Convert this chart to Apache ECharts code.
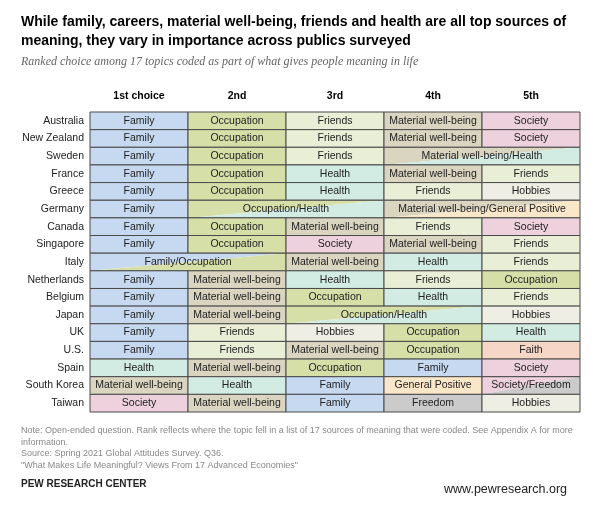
<!DOCTYPE html>
<html><head><meta charset="utf-8">
<script src="https://cdn.jsdelivr.net/npm/echarts@6/dist/echarts.min.js"></script>
<style>body{margin:0;background:#fff}#c{width:600px;height:508px}</style>
</head><body><div id="c"></div>
<script>
var countries = ['Australia','New Zealand','Sweden','France','Greece','Germany','Canada','Singapore','Italy','Netherlands','Belgium','Japan','UK','U.S.','Spain','South Korea','Taiwan'];
var ranks = ['1st choice','2nd','3rd','4th','5th'];
var choices = [
  ['Family','Occupation','Friends','Material well-being','Society'],
  ['Family','Occupation','Friends','Material well-being','Society'],
  ['Family','Occupation','Friends','Material well-being/Health','Material well-being/Health'],
  ['Family','Occupation','Health','Material well-being','Friends'],
  ['Family','Occupation','Health','Friends','Hobbies'],
  ['Family','Occupation/Health','Occupation/Health','Material well-being/General Positive','Material well-being/General Positive'],
  ['Family','Occupation','Material well-being','Friends','Society'],
  ['Family','Occupation','Society','Material well-being','Friends'],
  ['Family/Occupation','Family/Occupation','Material well-being','Health','Friends'],
  ['Family','Material well-being','Health','Friends','Occupation'],
  ['Family','Material well-being','Occupation','Health','Friends'],
  ['Family','Material well-being','Occupation/Health','Occupation/Health','Hobbies'],
  ['Family','Friends','Hobbies','Occupation','Health'],
  ['Family','Friends','Material well-being','Occupation','Faith'],
  ['Health','Material well-being','Occupation','Family','Society'],
  ['Material well-being','Health','Family','General Positive','Society/Freedom'],
  ['Society','Material well-being','Family','Freedom','Hobbies']
];
var topicColors = {
  'Family':'#c6d9f0','Occupation':'#d7dfa8','Friends':'#e9eed6','Material well-being':'#d9d5c1',
  'Society':'#edd1dd','Health':'#d3ece3','Hobbies':'#eeeee4','Faith':'#f5d6c7',
  'General Positive':'#fae7c9','Freedom':'#cbcbcb'
};

var cells = [];
choices.forEach(function(row, r){
  var c = 0;
  while (c < row.length) {
    var s = 1;
    while (c + s < row.length && row[c + s] === row[c]) s++;
    cells.push([c, r, s, row[c]]);
    c += s;
  }
});

var chart = echarts.init(document.getElementById('c'));
chart.setOption({
  animation: false,
  textStyle: {fontFamily: 'Liberation Sans'},
  title: [{
    text: 'While family, careers, material well-being, friends and health are all top sources of\nmeaning, they vary in importance across publics surveyed',
    left: 16, top: 8,
    textStyle: {fontSize: 14, fontWeight: 'bold', color: '#000', lineHeight: 19}
  }, {
    text: 'Ranked choice among 17 topics coded as part of what gives people meaning in life',
    left: 16, top: 51,
    textStyle: {fontSize: 12, fontStyle: 'italic', fontWeight: 'normal', color: '#666', fontFamily: 'Liberation Serif'}
  }, {
    text: 'Note: Open-ended question. Rank reflects where the topic fell in a list of 17 sources of meaning that were coded. See Appendix A for more\ninformation.\nSource: Spring 2021 Global Attitudes Survey. Q36.\n"What Makes Life Meaningful? Views From 17 Advanced Economies"',
    left: 16, top: 420,
    textStyle: {fontSize: 9, fontWeight: 'normal', color: '#888', lineHeight: 11.5}
  }, {
    text: 'PEW RESEARCH CENTER', left: 16, top: 474,
    textStyle: {fontSize: 10, fontWeight: 'bold', color: '#222'}
  }, {
    text: 'www.pewresearch.org', right: 28, top: 478,
    textStyle: {fontSize: 12.5, fontWeight: 'normal', color: '#222'}
  }],
  grid: {left: 90, right: 20, top: 112, height: 300},
  xAxis: {
    type: 'category', data: ranks, position: 'top',
    axisLine: {show: false}, axisTick: {show: false},
    axisLabel: {fontWeight: 'bold', fontSize: 10.5, color: '#000', margin: 10}
  },
  yAxis: {
    type: 'category', data: countries, inverse: true,
    axisLine: {show: false}, axisTick: {show: false},
    axisLabel: {fontSize: 10.5, color: '#222', margin: 6}
  },
  series: [{
    type: 'custom',
    data: cells,
    encode: {x: 0, y: 1},
    renderItem: function(params, api){
      var c = api.value(0), r = api.value(1), span = api.value(2);
      var label = cells[params.dataIndex][3];
      var p0 = api.coord([c, r]);
      var sz = api.size([1, 1]);
      var x = p0[0] - sz[0] / 2, y = p0[1] - sz[1] / 2;
      var w = sz[0] * span, h = sz[1];
      var parts = label.split('/');
      var children = [];
      if (parts.length > 1 && topicColors[parts[0]] && topicColors[parts[1]]) {
        children.push({type: 'polygon', shape: {points: [[x, y], [x + w, y], [x, y + h]]}, style: {fill: topicColors[parts[0]]}});
        children.push({type: 'polygon', shape: {points: [[x + w, y], [x + w, y + h], [x, y + h]]}, style: {fill: topicColors[parts[1]]}});
      } else {
        children.push({type: 'rect', shape: {x: x, y: y, width: w, height: h}, style: {fill: topicColors[label] || '#eee'}});
      }
      children.push({type: 'rect', shape: {x: x, y: y, width: w, height: h},
        style: {fill: 'none', stroke: '#4a4a4a', lineWidth: 1}});
      children.push({type: 'text', x: x + w / 2, y: y + h / 2,
        style: {text: label, align: 'center', verticalAlign: 'middle', fontSize: 10.5, fill: '#222', fontFamily: 'Liberation Sans'}});
      return {type: 'group', children: children};
    }
  }]
});
</script></body></html>
